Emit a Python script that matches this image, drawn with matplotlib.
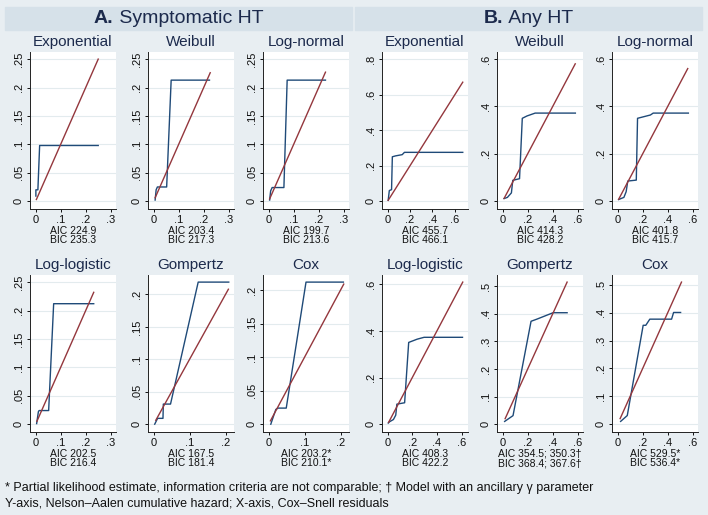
import matplotlib
matplotlib.use("Agg")
import matplotlib.pyplot as plt
from matplotlib.patches import Rectangle
from matplotlib.ticker import FuncFormatter

plt.rcParams['font.family'] = ['Liberation Sans', 'DejaVu Sans']

# Nelson-Aalen cumulative hazard (y) vs Cox-Snell residuals (x), step curves
titles = ["Exponential", "Weibull", "Log-normal", "Log-logistic", "Gompertz", "Cox",
          "Exponential", "Weibull", "Log-normal", "Log-logistic", "Gompertz", "Cox"]

sym_exp_x = [0.001, 0.001, 0.009, 0.016, 0.250]
sym_exp_y = [0.009, 0.020, 0.020, 0.098, 0.098]
sym_wei_x = [0.006, 0.010, 0.015, 0.052, 0.070, 0.223]
sym_wei_y = [0.002, 0.020, 0.025, 0.025, 0.213, 0.213]
sym_lnorm_x = [0.004, 0.008, 0.014, 0.061, 0.074, 0.227]
sym_lnorm_y = [0.002, 0.018, 0.024, 0.024, 0.213, 0.213]
sym_llog_x = [0.004, 0.011, 0.014, 0.052, 0.072, 0.232]
sym_llog_y = [0.001, 0.022, 0.024, 0.024, 0.212, 0.212]
sym_gomp_x = [0.003, 0.011, 0.026, 0.027, 0.047, 0.124, 0.209]
sym_gomp_y = [0.000, 0.009, 0.009, 0.031, 0.031, 0.219, 0.219]
sym_cox_x = [0.006, 0.020, 0.026, 0.049, 0.104, 0.208]
sym_cox_y = [0.000, 0.022, 0.024, 0.024, 0.212, 0.212]

any_exp_x = [0.005, 0.015, 0.035, 0.042, 0.070, 0.130, 0.150, 0.670]
any_exp_y = [0.005, 0.060, 0.065, 0.250, 0.255, 0.262, 0.275, 0.275]
any_wei_x = [0.011, 0.038, 0.070, 0.081, 0.135, 0.157, 0.195, 0.260, 0.581]
any_wei_y = [0.011, 0.016, 0.035, 0.088, 0.095, 0.350, 0.360, 0.372, 0.372]
any_lnorm_x = [0.008, 0.050, 0.068, 0.081, 0.149, 0.159, 0.262, 0.284, 0.565]
any_lnorm_y = [0.007, 0.016, 0.040, 0.085, 0.089, 0.350, 0.364, 0.372, 0.372]
any_llog_x = [0.005, 0.014, 0.047, 0.066, 0.075, 0.138, 0.171, 0.240, 0.296, 0.608]
any_llog_y = [0.005, 0.010, 0.020, 0.039, 0.086, 0.092, 0.351, 0.365, 0.373, 0.373]
any_gomp_x = [0.016, 0.083, 0.227, 0.275, 0.403, 0.515]
any_gomp_y = [0.010, 0.031, 0.373, 0.381, 0.404, 0.404]
any_cox_x = [0.024, 0.077, 0.204, 0.225, 0.257, 0.431, 0.447, 0.503]
any_cox_y = [0.010, 0.031, 0.355, 0.355, 0.377, 0.377, 0.401, 0.401]

curves_x = [sym_exp_x, sym_wei_x, sym_lnorm_x, sym_llog_x, sym_gomp_x, sym_cox_x,
            any_exp_x, any_wei_x, any_lnorm_x, any_llog_x, any_gomp_x, any_cox_x]
curves_y = [sym_exp_y, sym_wei_y, sym_lnorm_y, sym_llog_y, sym_gomp_y, sym_cox_y,
            any_exp_y, any_wei_y, any_lnorm_y, any_llog_y, any_gomp_y, any_cox_y]

# 45-degree reference line, from smallest to largest residual
ref_start = [0.003, 0.006, 0.004, 0.005, 0.006, 0.005, 0.005, 0.012, 0.008, 0.008, 0.020, 0.020]
ref_end = [0.250, 0.226, 0.227, 0.232, 0.208, 0.209, 0.670, 0.580, 0.560, 0.610, 0.515, 0.510]

xticks = [[0, .1, .2, .3]] * 4 + [[0, .1, .2]] * 2 + [[0, .2, .4, .6]] * 6
yticks = ([[0, .05, .1, .15, .2, .25]] * 4 + [[0, .05, .1, .15, .2]] * 2 +
          [[0, .2, .4, .6, .8], [0, .2, .4, .6], [0, .2, .4, .6], [0, .2, .4, .6],
           [0, .1, .2, .3, .4, .5], [0, .1, .2, .3, .4, .5]])

aic = ["AIC 224.9", "AIC 203.4", "AIC 199.7", "AIC 202.5", "AIC 167.5", "AIC 203.2*",
       "AIC 455.7", "AIC 414.3", "AIC 401.8", "AIC 408.3", "AIC 354.5; 350.3†", "AIC 529.5*"]
bic = ["BIC 235.3", "BIC 217.3", "BIC 213.6", "BIC 216.4", "BIC 181.4", "BIC 210.1*",
       "BIC 466.1", "BIC 428.2", "BIC 415.7", "BIC 422.2", "BIC 368.4; 367.6†", "BIC 536.4*"]

W, H = 708, 515
bg = "#e8eef2"
hdr = "#d6e1e9"
navy = "#1f4a78"
maroon = "#94373d"
txt = "#1c2a4c"

fig = plt.figure(figsize=(W / 100, H / 100), dpi=100)
fig.patch.set_facecolor(bg)


def fx(px):
    return px / W


def fy(py):
    return 1 - py / H


def fmt(v, pos):
    if abs(v) < 1e-9:
        return "0"
    return ("%g" % v).replace("0.", ".")


# group headers
for x0, x1, bold, rest in [(5, 352, "A.", "Symptomatic HT"), (355, 702, "B.", "Any HT")]:
    fig.patches.append(Rectangle((fx(x0), fy(30)), fx(x1 - x0), 23 / H,
                                 transform=fig.transFigure, color=hdr, zorder=0))
    mid = (x0 + x1) / 2
    t1 = fig.text(0, fy(18.5), bold, fontsize=14, fontweight='bold', color=txt, va='center')
    t2 = fig.text(0, fy(18.5), " " + rest, fontsize=14, color=txt, va='center')
    r = fig.canvas.get_renderer()
    w1 = t1.get_window_extent(r).width
    w2 = t2.get_window_extent(r).width
    start = mid - (w1 + w2) / 2
    t1.set_x(fx(start))
    t2.set_x(fx(start + w1))

lefts = [30, 148, 263, 382, 497, 612]
tops = [52, 275]
pw, ph = 86, 157

for i in range(12):
    grp = i // 6
    k = i % 6
    col = grp * 3 + k % 3
    row = k // 3
    left = lefts[col]
    top = tops[row]
    ax = fig.add_axes([fx(left), fy(top + ph), pw / W, ph / H])
    ax.set_facecolor("white")

    xs, ys = curves_x[i], curves_y[i]
    ax.plot([ref_start[i], ref_end[i]], [ref_start[i], ref_end[i]], color=maroon, lw=1.0, zorder=3)
    ax.plot(xs, ys, color=navy, lw=1.0, zorder=2)

    xlo = min(0, min(xs))
    xhi = max(xticks[i][-1], max(xs), ref_end[i])
    xr = xhi - xlo
    ax.set_xlim(xlo - 0.075 * xr, xhi + 0.07 * xr)
    ylo = min(0, min(ys))
    yhi = max(yticks[i][-1], max(ys), ref_end[i])
    yr = yhi - ylo
    ax.set_ylim(ylo - 0.055 * yr, yhi + 0.05 * yr)

    ax.set_xticks(xticks[i])
    ax.set_yticks(yticks[i])
    ax.xaxis.set_major_formatter(FuncFormatter(fmt))
    ax.yaxis.set_major_formatter(FuncFormatter(fmt))
    ax.tick_params(length=2.5, width=0.7, labelsize=8, pad=1.5, colors="#111111")
    ax.tick_params(axis='y', labelrotation=90, pad=2)
    for lab in ax.get_yticklabels():
        lab.set_va('center')
    ax.grid(axis='y', color="#e3ebee", lw=0.8)
    ax.set_axisbelow(True)
    for s in ['top', 'right']:
        ax.spines[s].set_visible(False)
    for s in ['left', 'bottom']:
        ax.spines[s].set_linewidth(0.7)
        ax.spines[s].set_color("#222222")

    cx = fx(left + pw / 2)
    fig.text(cx, fy(top - 10), titles[i], fontsize=11, color=txt, ha='center', va='center')
    fig.text(cx, fy(top + 183.5), aic[i] + "\n" + bic[i], fontsize=7.5, color="#111111",
             ha='center', va='center', linespacing=0.95)

fig.text(fx(5), fy(488), "* Partial likelihood estimate, information criteria are not comparable; "
         "† Model with an ancillary γ parameter", fontsize=9, color="#111111", va='center')
fig.text(fx(5), fy(503), "Y-axis, Nelson–Aalen cumulative hazard; X-axis, Cox–Snell residuals",
         fontsize=9, color="#111111", va='center')

fig.savefig("out.png", dpi=100, facecolor=bg)
